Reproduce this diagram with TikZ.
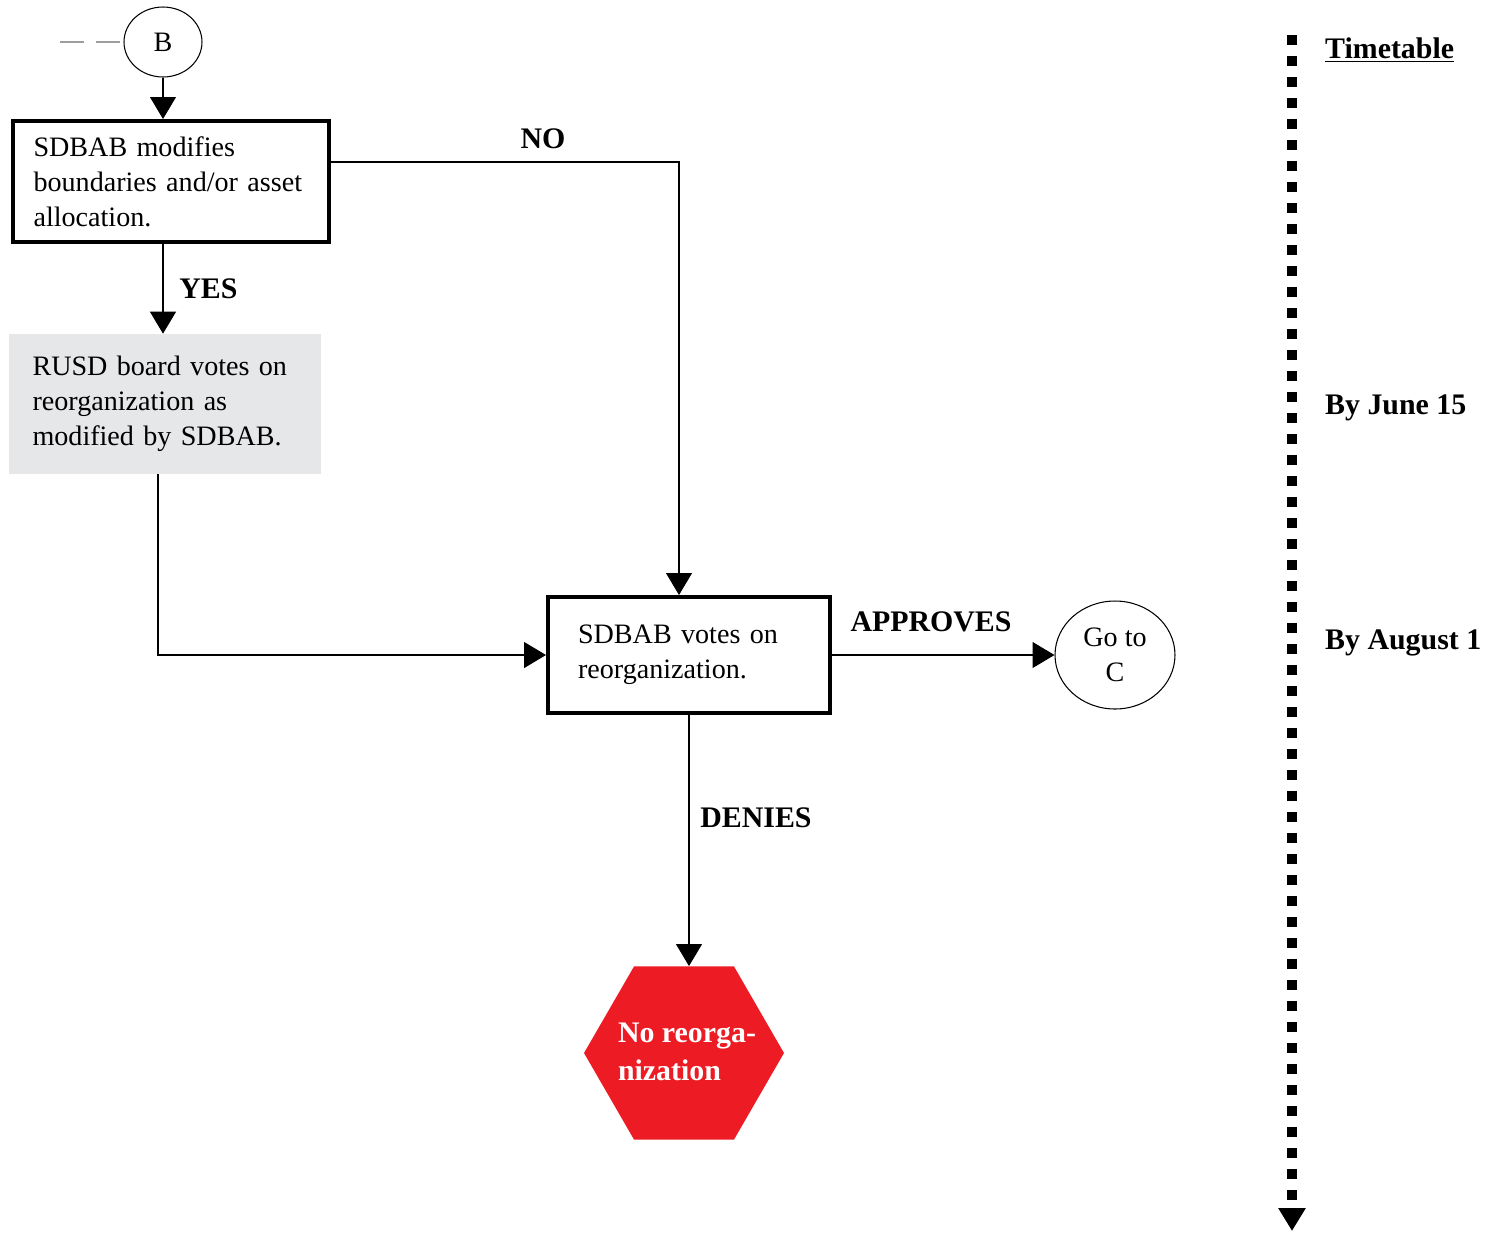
\documentclass[tikz,border=0pt]{standalone}
\usepackage{fontspec}
\setmainfont{Liberation Serif}
\usetikzlibrary{arrows.meta,shapes.geometric}
\definecolor{stopred}{HTML}{ED1C24}
\definecolor{votegray}{HTML}{E6E7E8}
\definecolor{linkgray}{HTML}{9D9D9D}

\begin{document}
\begin{tikzpicture}[x=0.02cm,y=-0.02cm,font=\fontsize{16}{19.9}\selectfont,
  flow/.style={line width=0.6pt,-{Triangle[width=0.52cm,length=0.44cm]}},
  stepbox/.style={draw,line width=2.3pt,align=left,inner ysep=0pt},
  connector/.style={draw,ellipse,line width=0.6pt,align=center,inner sep=0pt},
  tag/.style={font=\fontsize{17}{20}\selectfont\bfseries}]

\useasboundingbox (0,0) rectangle (1488,1232);

% nodes
\node[connector,minimum width=1.56cm,minimum height=1.4cm] (b) at (163,42) {B};
\node[stepbox,minimum width=6.32cm,minimum height=2.42cm,text width=5.5cm,inner xsep=0.41cm] (modify) at (171,181.5)
  {SDBAB modifies\\boundaries and/or asset\\allocation.};
\node[fill=votegray,align=left,minimum width=6.24cm,minimum height=2.8cm,text width=5.3cm,inner xsep=0.47cm,inner ysep=0pt] (rusd) at (165,404)
  {RUSD board votes on\\reorganization as\\modified by SDBAB.};
\node[stepbox,minimum width=5.64cm,minimum height=2.32cm,text width=4.44cm,inner xsep=0.6cm] (sdbab) at (689,655)
  {SDBAB votes on\\reorganization.};
\node[connector,minimum width=2.4cm,minimum height=2.16cm] (goc) at (1115,655) {Go to\\C};
\node[regular polygon,regular polygon sides=6,minimum size=4cm,inner sep=0pt,fill=stopred] (stop) at (684,1053) {};
\node[text=white,align=left,font=\fontsize{17}{22}\selectfont\bfseries] (stoptext) at (687,1052) {No reorga-\\nization};

% connectors
\coordinate (lead) at (60,42);
\draw[linkgray,line width=1.5pt,dash pattern=on 0.48cm off 0.24cm] (lead) -- (b.west);
\draw[flow] (b.south) -- (b.south |- modify.north);
\draw[flow] (modify.south -| b) -- (rusd.north -| b) node[tag,midway,right=0.2cm] {YES};
\draw[flow] ([yshift=0.39cm]modify.east) -| ([xshift=-0.2cm]sdbab.north);
\draw[flow] ([xshift=-0.1cm]rusd.south -| b) |- (sdbab.west);
\draw[flow] (sdbab.east) -- (goc.west);
\draw[flow] (sdbab.south) -- (sdbab.south |- stop.north);

% labels
\node[tag] at (543,139) {NO};
\node[tag] at (931,622) {APPROVES};
\node[tag] at (756,818) {DENIES};

% timetable
\coordinate (tltop) at (1292,35);
\coordinate (tlend) at (1292,1231);
\draw[line width=0.2cm,dash pattern=on 0.2cm off 0.22cm,-{Triangle[width=0.52cm,length=0.46cm]}] (tltop) -- (tlend);
\node[tag,anchor=west] at (1319,50) {\underline{Timetable}};
\node[tag,anchor=west] at (1319,408) {By June 15};
\node[tag,anchor=west] at (1319,643) {By August 1};

\end{tikzpicture}
\end{document}
